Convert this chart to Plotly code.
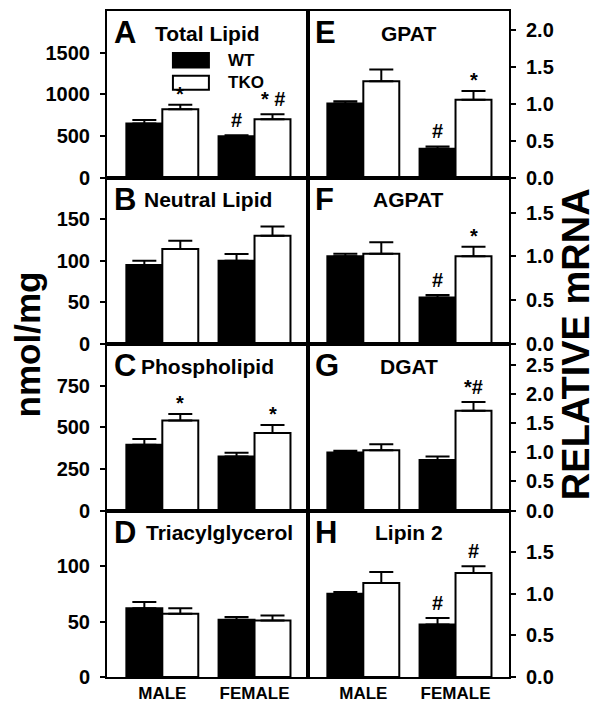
import plotly.graph_objects as go
from plotly.subplots import make_subplots

# categories
groups = ["MALE", "FEMALE"]

# nmol/mg panels (left column)
total_wt, total_wt_err = [650, 495], [40, 12]
total_tko, total_tko_err = [820, 700], [55, 60]
neutral_wt, neutral_wt_err = [95, 100], [5, 8]
neutral_tko, neutral_tko_err = [114, 130], [10, 11]
phospho_wt, phospho_wt_err = [395, 325], [35, 22]
phospho_tko, phospho_tko_err = [540, 465], [40, 48]
tag_wt, tag_wt_err = [62, 51.5], [5.5, 2.5]
tag_tko, tag_tko_err = [57, 51], [5, 4.5]

# relative mRNA panels (right column)
gpat_wt, gpat_wt_err = [1.0, 0.39], [0.03, 0.03]
gpat_tko, gpat_tko_err = [1.30, 1.05], [0.16, 0.12]
agpat_wt, agpat_wt_err = [1.0, 0.53], [0.03, 0.03]
agpat_tko, agpat_tko_err = [1.03, 1.0], [0.13, 0.11]
dgat_wt, dgat_wt_err = [1.0, 0.87], [0.03, 0.06]
dgat_tko, dgat_tko_err = [1.04, 1.72], [0.10, 0.15]
lipin_wt, lipin_wt_err = [1.0, 0.63], [0.02, 0.08]
lipin_tko, lipin_tko_err = [1.13, 1.25], [0.13, 0.08]

# significance marks: (group, genotype, text)
marks_A = [("MALE", "TKO", "*"), ("FEMALE", "WT", "#"), ("FEMALE", "TKO", "* #")]
marks_B = []
marks_C = [("MALE", "TKO", "*"), ("FEMALE", "TKO", "*")]
marks_D = []
marks_E = [("FEMALE", "WT", "#"), ("FEMALE", "TKO", "*")]
marks_F = [("FEMALE", "WT", "#"), ("FEMALE", "TKO", "*")]
marks_G = [("FEMALE", "TKO", "*#")]
marks_H = [("FEMALE", "WT", "#"), ("FEMALE", "TKO", "#")]

# y ticks / ranges
ticks_A, range_A = [0, 500, 1000, 1500], [0, 2000]
ticks_B, range_B = [0, 50, 100, 150], [0, 200]
ticks_C, range_C = [0, 250, 500, 750], [0, 1000]
ticks_D, range_D = [0, 50, 100], [0, 150]
ticks_E, range_E = [0, 0.5, 1.0, 1.5, 2.0], [0, 2.25]
ticks_F, range_F = [0, 0.5, 1.0, 1.5], [0, 1.9]
ticks_G, range_G = [0, 0.5, 1.0, 1.5, 2.0, 2.5], [0, 2.87]
ticks_H, range_H = [0, 0.5, 1.0, 1.5], [0, 2.0]

FONT = "Arial, Liberation Sans, sans-serif"

panels = [
    # letter, title, row, col, wt, wt_err, tko, tko_err, marks, ticks, range
    ("A", "Total Lipid", 1, 1, total_wt, total_wt_err, total_tko, total_tko_err, marks_A, ticks_A, range_A),
    ("B", "Neutral Lipid", 2, 1, neutral_wt, neutral_wt_err, neutral_tko, neutral_tko_err, marks_B, ticks_B, range_B),
    ("C", "Phospholipid", 3, 1, phospho_wt, phospho_wt_err, phospho_tko, phospho_tko_err, marks_C, ticks_C, range_C),
    ("D", "Triacylglycerol", 4, 1, tag_wt, tag_wt_err, tag_tko, tag_tko_err, marks_D, ticks_D, range_D),
    ("E", "GPAT", 1, 2, gpat_wt, gpat_wt_err, gpat_tko, gpat_tko_err, marks_E, ticks_E, range_E),
    ("F", "AGPAT", 2, 2, agpat_wt, agpat_wt_err, agpat_tko, agpat_tko_err, marks_F, ticks_F, range_F),
    ("G", "DGAT", 3, 2, dgat_wt, dgat_wt_err, dgat_tko, dgat_tko_err, marks_G, ticks_G, range_G),
    ("H", "Lipin 2", 4, 2, lipin_wt, lipin_wt_err, lipin_tko, lipin_tko_err, marks_H, ticks_H, range_H),
]

fig = make_subplots(rows=4, cols=2, horizontal_spacing=0, vertical_spacing=0)

for letter, title, r, c, wt, wt_err, tko, tko_err, marks, ticks, yr in panels:
    idx = (r - 1) * 2 + c
    sfx = "" if idx == 1 else str(idx)
    fig.add_trace(go.Bar(
        x=groups, y=wt, name="WT",
        marker=dict(color="black", line=dict(color="black", width=2)),
        error_y=dict(type="data", symmetric=False, array=wt_err, arrayminus=[0, 0],
                     color="black", thickness=2, width=12),
        showlegend=False,
    ), row=r, col=c)
    fig.add_trace(go.Bar(
        x=groups, y=tko, name="TKO",
        marker=dict(color="white", line=dict(color="black", width=2)),
        error_y=dict(type="data", symmetric=False, array=tko_err, arrayminus=[0, 0],
                     color="black", thickness=2, width=12),
        showlegend=False,
    ), row=r, col=c)

    fig.update_yaxes(
        range=yr, tickvals=ticks,
        tickformat=".1f" if c == 2 else "d",
        side="left" if c == 1 else "right",
        showline=True, mirror=True, linecolor="black", linewidth=2,
        ticks="outside", ticklen=5, tickwidth=2, tickcolor="black",
        ticklabelstandoff=6,
        tickfont=dict(family=FONT, size=20, color="black", weight="bold"),
        showgrid=False, zeroline=False,
        row=r, col=c,
    )
    fig.update_xaxes(
        range=[-0.6, 1.58],
        showline=True, mirror=True, linecolor="black", linewidth=2,
        ticks="", showgrid=False,
        showticklabels=(r == 4),
        tickfont=dict(family=FONT, size=17, color="black", weight="bold"),
        row=r, col=c,
    )

    # panel letter and title
    fig.add_annotation(text=letter, xref=f"x{sfx} domain", yref=f"y{sfx} domain",
                       x=0.025, y=0.87, xanchor="left", yanchor="middle", showarrow=False,
                       font=dict(family=FONT, size=31, color="black", weight="bold"))
    fig.add_annotation(text=title, xref=f"x{sfx} domain", yref=f"y{sfx} domain",
                       x=0.5 if letter != "D" else 0.56, y=0.865,
                       xanchor="center", yanchor="middle", showarrow=False,
                       font=dict(family=FONT, size=21, color="black", weight="bold"))

    # significance marks above error bars
    for g, geno, txt in marks:
        i = groups.index(g)
        top = (wt[i] + wt_err[i]) if geno == "WT" else (tko[i] + tko_err[i])
        fig.add_annotation(text=txt, x=g, y=top, xref=f"x{sfx}", yref=f"y{sfx}",
                           xshift=-18 if geno == "WT" else 18,
                           yshift=-2 if txt == "*" else 2,
                           xanchor="center", yanchor="bottom", showarrow=False,
                           font=dict(family=FONT, size=20, color="black", weight="bold"))

# legend drawn inside panel A
fig.add_shape(type="rect", xref="x domain", yref="y domain", x0=0.328, x1=0.507, y0=0.66, y1=0.748,
              fillcolor="black", line=dict(color="black", width=2))
fig.add_shape(type="rect", xref="x domain", yref="y domain", x0=0.328, x1=0.507, y0=0.527, y1=0.611,
              fillcolor="white", line=dict(color="black", width=2))
fig.add_annotation(text="WT", xref="x domain", yref="y domain", x=0.59, y=0.704,
                   xanchor="left", yanchor="middle", showarrow=False,
                   font=dict(family=FONT, size=17, color="black", weight="bold"))
fig.add_annotation(text="TKO", xref="x domain", yref="y domain", x=0.59, y=0.569,
                   xanchor="left", yanchor="middle", showarrow=False,
                   font=dict(family=FONT, size=17, color="black", weight="bold"))

# axis titles
fig.add_annotation(text="nmol/mg", xref="paper", yref="paper", x=-0.198, y=0.5,
                   xanchor="center", yanchor="middle", textangle=-90, showarrow=False,
                   font=dict(family=FONT, size=35, color="black", weight="bold"))
fig.add_annotation(text="RELATIVE mRNA", xref="paper", yref="paper", x=1.167, y=0.5,
                   xanchor="center", yanchor="middle", textangle=-90, showarrow=False,
                   font=dict(family=FONT, size=38, color="black", weight="bold"))

# page body adds an 8px margin, so the figure margins are trimmed to keep the plot area in place
fig.update_layout(
    width=604, height=709,
    margin=dict(l=99, r=103, t=1, b=40),
    barmode="group", bargap=0.22, bargroupgap=0,
    plot_bgcolor="white", paper_bgcolor="white",
    showlegend=False,
    font=dict(family=FONT, color="black"),
)

fig.write_html("out.html")
